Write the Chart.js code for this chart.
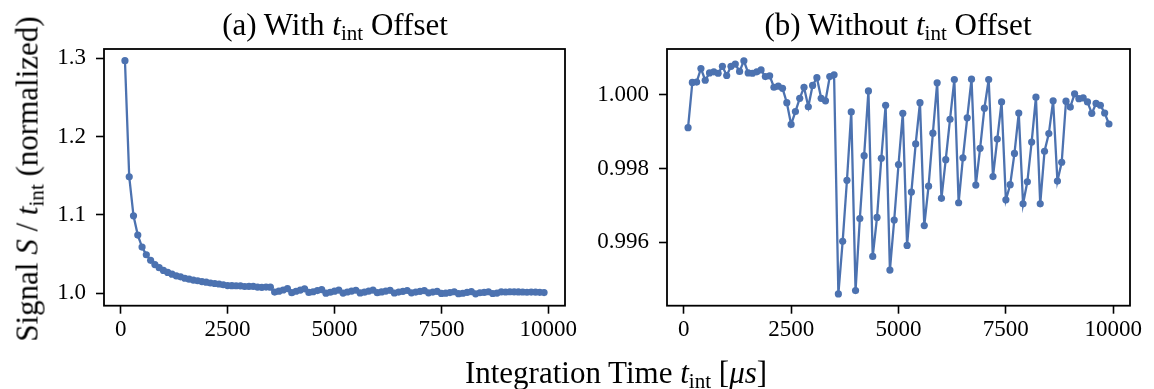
<!DOCTYPE html>
<html>
<head>
<meta charset="utf-8">
<script src="https://cdn.jsdelivr.net/npm/chart.js@4"></script>
<style>
  html, body { margin: 0; padding: 0; background: #fff; }
  #wrap { position: relative; width: 1154px; height: 389px; overflow: hidden; background: #fff; }
  canvas { position: absolute; top: 0; }
  .lbl { position: absolute; font-family: "Liberation Serif", "DejaVu Serif", serif; color: #000; white-space: nowrap; transform: translate(-50%, -50%); font-size: 31px; line-height: 1; }
  .lbl sub { font-size: 68%; vertical-align: -0.28em; line-height: 0; }
  .rot { transform: translate(-50%, -50%) rotate(-90deg); }
</style>
</head>
<body>
<div id="wrap">
  <canvas id="cA" width="580" height="389" style="left:0px;width:580px;height:389px"></canvas>
  <canvas id="cB" width="574" height="389" style="left:580px;width:574px;height:389px"></canvas>
  <div class="lbl" style="left:335px;top:24px">(a) With <i>t</i><sub>int</sub> Offset</div>
  <div class="lbl" style="left:898px;top:24px">(b) Without <i>t</i><sub>int</sub> Offset</div>
  <div class="lbl" style="left:616px;top:372px">Integration Time <i>t</i><sub>int</sub> [<i>μs</i>]</div>
  <div class="lbl rot" style="left:27px;top:179px">Signal <i>S</i> / <i>t</i><sub>int</sub> (normalized)</div>
</div>
<script>
// Integration times (µs)
const tIntUs = [100,200,300,400,500,600,700,800,900,1000,1100,1200,1300,1400,1500,1600,1700,1800,1900,2000,
  2100,2200,2300,2400,2500,2600,2700,2800,2900,3000,3100,3200,3300,3400,3500,3600,3700,3800,3900,4000,
  4100,4200,4300,4400,4500,4600,4700,4800,4900,5000,5100,5200,5300,5400,5500,5600,5700,5800,5900,6000,
  6100,6200,6300,6400,6500,6600,6700,6800,6900,7000,7100,7200,7300,7400,7500,7600,7700,7800,7900,8000,
  8100,8200,8300,8400,8500,8600,8700,8800,8900,9000,9100,9200,9300,9400,9500,9600,9700,9800,9900];

// (a) With t_int offset
const withOffset = [1.29703,1.14878,1.09885,1.07427,1.05894,1.04916,1.04206,1.03666,1.03269,1.02911,
  1.02664,1.02443,1.02230,1.02095,1.01919,1.01793,1.01686,1.01594,1.01488,1.01411,
  1.01308,1.01246,1.01181,1.01087,1.00978,1.00967,1.00961,1.00951,1.00861,1.00885,
  1.00874,1.00787,1.00752,1.00792,1.00771,1.00148,1.00269,1.00415,1.00582,1.00074,
  1.00253,1.00408,1.00568,1.00100,1.00191,1.00339,1.00469,1.00006,1.00130,1.00270,
  1.00397,1.00026,1.00160,1.00282,1.00384,1.00039,1.00137,1.00272,1.00401,1.00078,
  1.00175,1.00277,1.00378,1.00035,1.00150,1.00252,1.00351,1.00055,1.00149,1.00252,
  1.00324,1.00054,1.00150,1.00246,0.99974,1.00010,1.00090,1.00195,0.99943,0.99998,
  1.00102,1.00220,0.99924,1.00064,1.00108,1.00193,0.99970,1.00017,1.00180,1.00160,
  1.00193,1.00176,1.00175,1.00160,1.00126,1.00150,1.00141,1.00117,1.00084];

// (b) Without t_int offset
const withoutOffset = [0.99911,1.00034,1.00035,1.00072,1.00040,1.00060,1.00063,1.00059,1.00078,1.00053,
  1.00078,1.00084,1.00064,1.00093,1.00060,1.00059,1.00063,1.00068,1.00050,1.00052,
  1.00021,1.00024,1.00018,0.99979,0.99920,0.99955,0.99991,1.00021,0.99968,1.00026,
  1.00047,0.99991,0.99984,1.00050,1.00055,0.99459,0.99602,0.99768,0.99954,0.99468,
  0.99664,0.99835,1.00011,0.99561,0.99667,0.99828,0.99972,0.99524,0.99660,0.99811,
  0.99950,0.99591,0.99736,0.99867,0.99979,0.99645,0.99752,0.99896,1.00033,0.99719,
  0.99824,0.99934,1.00042,0.99707,0.99829,0.99938,1.00043,0.99755,0.99855,0.99964,
  1.00042,0.99778,0.99880,0.99981,0.99715,0.99756,0.99841,0.99951,0.99704,0.99764,
  0.99872,0.99994,0.99704,0.99847,0.99895,0.99984,0.99766,0.99817,0.99983,0.99967,
  1.00003,0.99990,0.99992,0.99981,0.99950,0.99977,0.99972,0.99951,0.99921];

const xTicks = [0, 2500, 5000, 7500, 10000];
const yTicksA = [1.0, 1.1, 1.2, 1.3];
const yTicksB = [0.996, 0.998, 1.000];

const LINE = '#4C72B0';
const FONT = { family: '"Liberation Serif", "DejaVu Serif", serif', size: 23 };

const boxPlugin = {
  id: 'box',
  afterDraw(chart) {
    const a = chart.chartArea, c = chart.ctx;
    c.save();
    c.strokeStyle = '#000';
    c.lineWidth = 1.8;
    c.strokeRect(a.left, a.top, a.right - a.left, a.bottom - a.top);
    c.restore();
  }
};

function makeChart(id, yVals, yTicks, yMin, yMax, yDec, leftW, rightPad) {
  const pts = tIntUs.map((t, i) => ({ x: t, y: yVals[i] }));
  return new Chart(document.getElementById(id), {
    type: 'line',
    data: { datasets: [{
      data: pts,
      borderColor: LINE, backgroundColor: LINE,
      borderWidth: 2.3, pointRadius: 3.6, pointBorderWidth: 0,
      pointBackgroundColor: LINE, tension: 0
    }]},
    plugins: [boxPlugin],
    options: {
      responsive: false, animation: false, devicePixelRatio: 1,
      layout: { padding: { left: 0, right: rightPad, top: 49, bottom: 0 } },
      plugins: { legend: { display: false }, tooltip: { enabled: false }, title: { display: false } },
      scales: {
        x: {
          type: 'linear', min: -390, max: 10390,
          afterBuildTicks: s => { s.ticks = xTicks.map(v => ({ value: v })); },
          afterFit: s => { s.height = 83.3; s.paddingLeft = 0; s.paddingRight = 0; },
          grid: { drawOnChartArea: false, drawTicks: true, tickLength: 8, tickColor: '#000', tickWidth: 1.6 },
          border: { display: false },
          ticks: { color: '#000', font: FONT, padding: 2, maxRotation: 0, autoSkip: false,
                   callback: v => String(v) }
        },
        y: {
          type: 'linear', min: yMin, max: yMax,
          afterBuildTicks: s => { s.ticks = yTicks.map(v => ({ value: v })); },
          afterFit: s => { s.width = leftW; s.paddingTop = 0; s.paddingBottom = 0; },
          grid: { drawOnChartArea: false, drawTicks: true, tickLength: 8, tickColor: '#000', tickWidth: 1.6 },
          border: { display: false },
          ticks: { color: '#000', font: FONT, padding: 10, autoSkip: false,
                   callback: v => Number(v).toFixed(yDec) }
        }
      }
    }
  });
}

makeChart('cA', withOffset, yTicksA, 0.9841, 1.3120, 1, 104, 15);
makeChart('cB', withoutOffset, yTicksB, 0.99427, 1.00125, 3, 87, 24);
</script>
</body>
</html>
